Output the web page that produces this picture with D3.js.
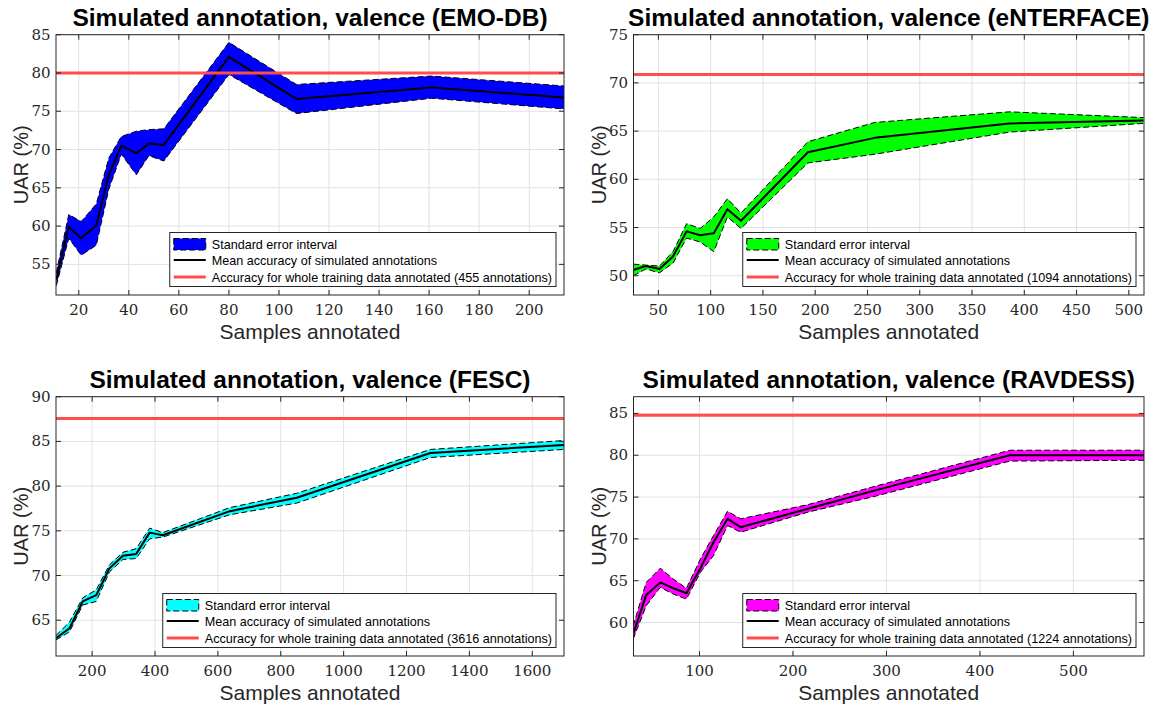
<!DOCTYPE html>
<html><head><meta charset="utf-8">
<script src="https://cdn.jsdelivr.net/npm/d3@7"></script>
<style>body{margin:0;background:#fff}svg{display:block}
.tl{font-family:"DejaVu Serif",serif;}
</style>
</head><body>
<svg id="chart" width="1159" height="711"></svg>
<script>
// ---------- DATA ----------
const emoX     = [11, 16, 21, 27, 32, 37, 43, 48, 54, 80, 107, 161, 214];
const emoMean  = [53.0, 59.9, 58.4, 60.1, 66.7, 70.5, 69.5, 70.8, 70.6, 82.1, 76.6, 78.1, 76.8];
const emoUpper = [53.9, 61.5, 60.6, 62.9, 68.9, 71.7, 72.4, 72.6, 72.7, 84.0, 78.5, 79.6, 78.3];
const emoLower = [52.2, 58.4, 56.2, 57.5, 64.8, 69.4, 66.7, 69.2, 68.5, 79.8, 74.7, 76.7, 75.3];
const emoFull  = 80.0;

const entX     = [26, 38, 51, 64, 77, 90, 103, 116, 129, 193, 257, 386, 514];
const entMean  = [50.6, 51.0, 50.7, 52.0, 54.6, 54.2, 54.4, 56.9, 55.7, 62.8, 64.3, 65.8, 66.1];
const entUpper = [51.2, 51.1, 51.0, 52.5, 55.4, 54.9, 56.1, 58.0, 56.5, 63.9, 65.9, 67.0, 66.4];
const entLower = [50.0, 50.7, 50.3, 51.3, 53.9, 53.5, 52.5, 56.1, 54.9, 61.7, 62.6, 64.9, 65.8];
const entFull  = 70.87;

const fescX     = [85, 128, 170, 213, 255, 298, 340, 383, 425, 638, 851, 1276, 1701];
const fescMean  = [63.0, 64.1, 67.1, 67.8, 70.8, 72.2, 72.4, 74.8, 74.5, 77.2, 78.7, 83.7, 84.6];
const fescUpper = [63.3, 64.8, 67.5, 68.4, 71.2, 72.6, 73.0, 75.3, 74.8, 77.6, 79.2, 84.1, 85.1];
const fescLower = [62.8, 63.7, 66.7, 67.1, 70.4, 71.8, 71.9, 74.1, 74.3, 76.8, 78.1, 83.2, 84.1];
const fescFull  = 87.55;

const ravX     = [29, 43, 58, 72, 86, 101, 115, 130, 144, 216, 288, 432, 576];
const ravMean  = [58.6, 63.3, 64.8, 64.1, 63.5, 66.5, 69.6, 72.4, 71.4, 73.6, 75.8, 80.0, 80.0];
const ravUpper = [59.6, 64.8, 66.5, 65.2, 64.1, 67.6, 70.4, 73.3, 72.4, 74.1, 76.3, 80.6, 80.6];
const ravLower = [58.0, 62.0, 64.2, 63.4, 62.8, 66.0, 68.0, 71.6, 70.8, 73.2, 75.1, 79.3, 79.4];
const ravFull  = 84.77;

const emoXTicks  = [20, 40, 60, 80, 100, 120, 140, 160, 180, 200];
const emoYTicks  = [55, 60, 65, 70, 75, 80, 85];
const entXTicks  = [50, 100, 150, 200, 250, 300, 350, 400, 450, 500];
const entYTicks  = [50, 55, 60, 65, 70, 75];
const fescXTicks = [200, 400, 600, 800, 1000, 1200, 1400, 1600];
const fescYTicks = [65, 70, 75, 80, 85, 90];
const ravXTicks  = [100, 200, 300, 400, 500];
const ravYTicks  = [60, 65, 70, 75, 80, 85];

const titles = ["Simulated annotation, valence (EMO-DB)", "Simulated annotation, valence (eNTERFACE)",
                "Simulated annotation, valence (FESC)", "Simulated annotation, valence (RAVDESS)"];
const legendLabels = ["Standard error interval", "Mean accuracy of simulated annotations",
                      "Accuracy for whole training data annotated"];
const annotationCounts = [455, 1094, 3616, 1224];
const xLabel = "Samples annotated";
const yLabel = "UAR (%)";

// ---------- LAYOUT ----------
const panels = [
  {x: emoX, mean: emoMean, up: emoUpper, lo: emoLower, full: emoFull, xt: emoXTicks, yt: emoYTicks,
   xd: [10.9, 213.9], yd: [51, 85], color: "#0000ff", box: {l: 56, r: 564, t: 34.7, b: 295}},
  {x: entX, mean: entMean, up: entUpper, lo: entLower, full: entFull, xt: entXTicks, yt: entYTicks,
   xd: [26.2, 514.5], yd: [48, 75], color: "#00ff00", box: {l: 633.5, r: 1144, t: 34.7, b: 295}},
  {x: fescX, mean: fescMean, up: fescUpper, lo: fescLower, full: fescFull, xt: fescXTicks, yt: fescYTicks,
   xd: [85, 1701], yd: [61, 90], color: "#00ffff", box: {l: 56, r: 564, t: 396.7, b: 656}},
  {x: ravX, mean: ravMean, up: ravUpper, lo: ravLower, full: ravFull, xt: ravXTicks, yt: ravYTicks,
   xd: [29.4, 575.5], yd: [56, 87], color: "#ff00ff", box: {l: 633.5, r: 1144, t: 396.7, b: 656}}
];

const svg = d3.select("#chart");
const AX = "#262626";
const SANS = "'Liberation Sans', Arial, sans-serif";

panels.forEach((p, i) => {
  const B = p.box;
  const xs = d3.scaleLinear().domain(p.xd).range([B.l, B.r]);
  const ys = d3.scaleLinear().domain(p.yd).range([B.b, B.t]);
  const g = svg.append("g");
  const clipId = "clip" + i;
  svg.append("clipPath").attr("id", clipId).append("rect")
    .attr("x", B.l).attr("y", B.t).attr("width", B.r - B.l).attr("height", B.b - B.t);

  g.append("rect").attr("x", B.l).attr("y", B.t).attr("width", B.r - B.l).attr("height", B.b - B.t)
    .attr("fill", "#fff");

  // grid
  g.append("g").selectAll("line").data(p.xt).join("line")
    .attr("x1", d => xs(d)).attr("x2", d => xs(d)).attr("y1", B.t).attr("y2", B.b)
    .attr("stroke", "#e1e1e1").attr("stroke-width", 1);
  g.append("g").selectAll("line").data(p.yt).join("line")
    .attr("y1", d => ys(d)).attr("y2", d => ys(d)).attr("x1", B.l).attr("x2", B.r)
    .attr("stroke", "#e1e1e1").attr("stroke-width", 1);

  const plot = g.append("g").attr("clip-path", `url(#${clipId})`);
  const rows = p.x.map((x, k) => ({x, m: p.mean[k], u: p.up[k], l: p.lo[k]}));

  // band
  const area = d3.area().x(d => xs(d.x)).y0(d => ys(d.l)).y1(d => ys(d.u));
  plot.append("path").datum(rows).attr("d", area).attr("fill", p.color).attr("stroke", "none");
  const upLine = d3.line().x(d => xs(d.x)).y(d => ys(d.u));
  const loLine = d3.line().x(d => xs(d.x)).y(d => ys(d.l));
  [upLine, loLine].forEach(ln => plot.append("path").datum(rows).attr("d", ln)
    .attr("fill", "none").attr("stroke", "#000").attr("stroke-width", 1).attr("stroke-dasharray", "6,3"));

  // mean
  const mLine = d3.line().x(d => xs(d.x)).y(d => ys(d.m));
  plot.append("path").datum(rows).attr("d", mLine).attr("fill", "none")
    .attr("stroke", "#000").attr("stroke-width", 2).attr("stroke-linejoin", "round");

  // full data line
  plot.append("line").attr("x1", B.l).attr("x2", B.r).attr("y1", ys(p.full)).attr("y2", ys(p.full))
    .attr("stroke", "#ff4d4d").attr("stroke-width", 3);

  // axes box
  g.append("rect").attr("x", B.l).attr("y", B.t).attr("width", B.r - B.l).attr("height", B.b - B.t)
    .attr("fill", "none").attr("stroke", AX).attr("stroke-width", 1);

  // ticks
  const TL = 5;
  const tk = g.append("g").attr("stroke", AX).attr("stroke-width", 1);
  p.xt.forEach(d => {
    tk.append("line").attr("x1", xs(d)).attr("x2", xs(d)).attr("y1", B.b).attr("y2", B.b - TL);
    tk.append("line").attr("x1", xs(d)).attr("x2", xs(d)).attr("y1", B.t).attr("y2", B.t + TL);
  });
  p.yt.forEach(d => {
    tk.append("line").attr("y1", ys(d)).attr("y2", ys(d)).attr("x1", B.l).attr("x2", B.l + TL);
    tk.append("line").attr("y1", ys(d)).attr("y2", ys(d)).attr("x1", B.r).attr("x2", B.r - TL);
  });

  // tick labels
  g.append("g").selectAll("text").data(p.xt).join("text").attr("class", "tl")
    .attr("x", d => xs(d)).attr("y", B.b + 19.5).attr("text-anchor", "middle")
    .attr("font-size", 15).attr("fill", AX).text(d => d);
  g.append("g").selectAll("text").data(p.yt).join("text").attr("class", "tl")
    .attr("x", B.l - 5.5).attr("y", d => ys(d) + 5).attr("text-anchor", "end")
    .attr("font-size", 15).attr("fill", AX).text(d => d);

  // title
  const cx = (B.l + B.r) / 2;
  g.append("text").attr("x", cx).attr("y", B.t - 8.5).attr("text-anchor", "middle")
    .attr("font-family", SANS).attr("font-weight", "bold").attr("font-size", 24.5).attr("fill", "#000")
    .text(titles[i]);
  // x label
  g.append("text").attr("x", cx).attr("y", B.b + 44).attr("text-anchor", "middle")
    .attr("font-family", SANS).attr("font-size", 21).attr("fill", AX).text(xLabel);
  // y label
  const cy = (B.t + B.b) / 2;
  g.append("text").attr("transform", `translate(${B.l - 28},${cy}) rotate(-90)`)
    .attr("text-anchor", "middle").attr("font-family", SANS).attr("font-size", 20).attr("fill", AX)
    .text(yLabel);

  // legend
  const lg = g.append("g");
  const labels = [legendLabels[0], legendLabels[1], `${legendLabels[2]} (${annotationCounts[i]} annotations)`];
  const texts = labels.map(t => lg.append("text").attr("font-family", SANS).attr("font-size", 12.6)
    .attr("fill", "#000").text(t));
  const tw = d3.max(texts, t => t.node().getComputedTextLength());
  const bw = tw + 46, bh = 54;
  const bx = B.r - 8 - bw, by = B.b - 8.5 - bh;
  lg.insert("rect", ":first-child").attr("x", bx).attr("y", by).attr("width", bw).attr("height", bh)
    .attr("fill", "#fff").attr("stroke", AX).attr("stroke-width", 1);
  const rowY = [by + 11.5, by + 27.5, by + 44.5];
  texts.forEach((t, k) => t.attr("x", bx + 42).attr("y", rowY[k] + 4.5));
  lg.append("rect").attr("x", bx + 4).attr("y", rowY[0] - 5.5).attr("width", 32).attr("height", 11.5)
    .attr("fill", p.color).attr("stroke", "#000").attr("stroke-width", 1).attr("stroke-dasharray", "6,3");
  lg.append("line").attr("x1", bx + 4).attr("x2", bx + 36).attr("y1", rowY[1]).attr("y2", rowY[1])
    .attr("stroke", "#000").attr("stroke-width", 2);
  lg.append("line").attr("x1", bx + 4).attr("x2", bx + 36).attr("y1", rowY[2]).attr("y2", rowY[2])
    .attr("stroke", "#ff4d4d").attr("stroke-width", 3);
});
</script>
</body></html>
